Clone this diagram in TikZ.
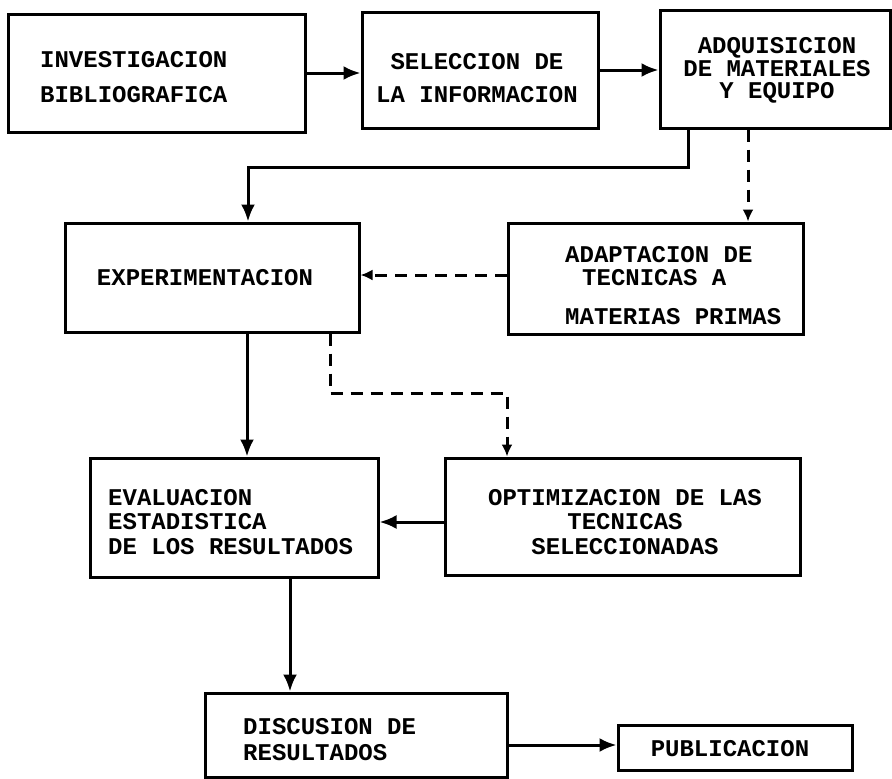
\documentclass[tikz,border=0pt]{standalone}
\usepackage{fontspec}
\setmonofont{Liberation Mono}
\usetikzlibrary{arrows.meta}
\tikzset{
  box/.style={draw, line width=3pt, inner sep=0pt, rectangle},
  lbl/.style={font=\ttfamily\bfseries\fontsize{24}{#1}\selectfont, inner sep=0pt},
  arr/.style={line width=3pt, -{Latex[length=17pt,width=14pt]}},
  darr/.style={line width=3pt, dash pattern=on 12pt off 8pt, -{Latex[length=12pt,width=11pt]}}
}
\begin{document}
\begin{tikzpicture}[x=1pt,y=-1pt]
\useasboundingbox[fill=white] (0,0) rectangle (892,779);
% boxes
\node[box, minimum width=297pt, minimum height=118pt] (inv)  at (156.5,73) {};
\node[box, minimum width=236pt, minimum height=116pt] (sel)  at (480,70) {};
\node[box, minimum width=230pt, minimum height=118pt] (adq)  at (775,69) {};
\node[box, minimum width=294pt, minimum height=109pt] (exp)  at (212,277.5) {};
\node[box, minimum width=295pt, minimum height=111pt] (adap) at (655.5,278.5) {};
\node[box, minimum width=288pt, minimum height=119pt] (eval) at (234,517.5) {};
\node[box, minimum width=355pt, minimum height=117pt] (opt)  at (622.5,516.5) {};
\node[box, minimum width=302pt, minimum height=84pt]  (disc) at (356,735) {};
\node[box, minimum width=234pt, minimum height=45pt]  (pub)  at (735,747.5) {};
% texts
\node[lbl=35, anchor=west, align=left] (invt) at (40,77.5) {INVESTIGACION\\BIBLIOGRAFICA};
\node[lbl=33, align=center] (selt) at (477,78.5) {SELECCION DE\\LA INFORMACION};
\node[lbl=22.5, align=center] (adqt) at (777,70.5) {ADQUISICION\\DE MATERIALES\\Y EQUIPO};
\node[lbl=24] (expt) at (205,278) {EXPERIMENTACION};
\node[lbl=23, anchor=west, align=left] (adapt) at (565,286) {ADAPTACION DE\\\hspace*{17pt}TECNICAS A\\[16pt]MATERIAS PRIMAS};
\node[lbl=24.5, anchor=west, align=left] (evalt) at (108,522) {EVALUACION\\ESTADISTICA\\DE LOS RESULTADOS};
\node[lbl=24.5, align=center] (optt) at (625,522) {OPTIMIZACION DE LAS\\TECNICAS\\SELECCIONADAS};
\node[lbl=26, anchor=west, align=left] (disct) at (243,740) {DISCUSION DE\\RESULTADOS};
\node[lbl=24] (pubt) at (730,749) {PUBLICACION};
% helper coordinates
\coordinate (k1) at (688,167);
\coordinate (k2) at (248,167);
\coordinate (k3) at (748,170);
\coordinate (k4) at (430,275);
\coordinate (k5) at (247,400);
\coordinate (k6) at (330,393);
\coordinate (k7) at (507,393);
\coordinate (k8) at (410,522);
\coordinate (k9) at (290,640);
\coordinate (k10) at (560,745);
% connectors
\draw[arr] (inv.east) -- (inv.east -| sel.west);
\draw[arr] (sel.east) -- (sel.east -| adq.west);
\draw[arr] (adq.south -| k1) -- (k1) -- (k2) -- (exp.north -| k2);
\draw[darr] (adq.south -| k3) -- (adap.north -| k3);
\draw[darr] (adap.west |- k4) -- (exp.east |- k4);
\draw[arr] (exp.south -| k5) -- (eval.north -| k5);
\draw[darr] (exp.south -| k6) -- (k6) -- (k7) -- (opt.north -| k7);
\draw[arr] (opt.west |- k8) -- (eval.east |- k8);
\draw[arr] (eval.south -| k9) -- (disc.north -| k9);
\draw[arr] (disc.east |- k10) -- (pub.west |- k10);
\end{tikzpicture}
\end{document}
